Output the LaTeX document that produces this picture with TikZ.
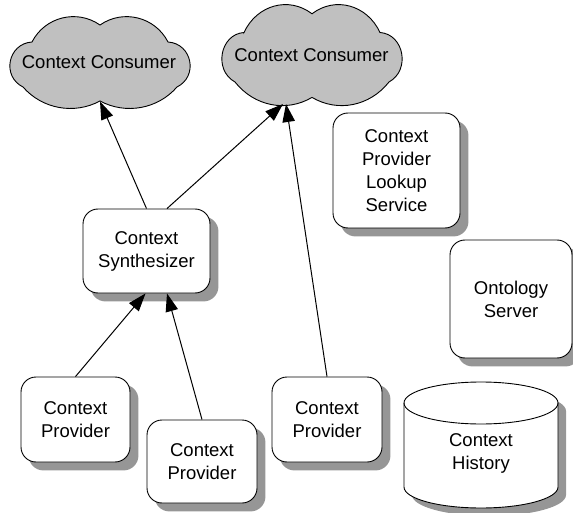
\documentclass[tikz,border=0pt]{standalone}
\usepackage{fontspec}
\setmainfont{Liberation Sans}
\usetikzlibrary{backgrounds,arrows.meta,calc}
\definecolor{cloudgray}{RGB}{192,192,192}
\definecolor{shadegray}{RGB}{150,150,150}
\tikzset{
  x=1pt, y=1pt,
  txt/.style={font=\fontsize{18.5}{23}\selectfont, align=center},
  box/.style={draw=black, line width=0.9pt, fill=white, rounded corners=15pt, txt, inner sep=0pt},
  boxshadow/.style={fill=shadegray, rounded corners=15pt},
  flow/.style={line width=1pt, -{Triangle[length=18pt,width=12.5pt]}},
  pics/consumer/.style={code={
    \filldraw[fill=cloudgray, draw=black, line width=0.9pt]
      (-68,20) to[bend left=49, looseness=1.03] (0,37)
      to[bend left=49, looseness=1.03] (68,20)
      to[bend left=75, looseness=1.35] (77,-25)
      to[bend left=38.6, looseness=0.955] (0,-39)
      to[bend left=38.6, looseness=0.955] (-77,-25)
      to[bend left=75, looseness=1.35] cycle;
  }},
}
\begin{document}
\begin{tikzpicture}
\useasboundingbox (0,0) rectangle (573,-513);
% clouds
\pic at (100,-62) {consumer};
\node[txt] (c1) at (99,-62.5) {Context Consumer};
\pic[yscale=1.1] at (312,-54.5) {consumer};
\node[txt] (c2) at (311.5,-55) {Context Consumer};
% boxes
\node[box, minimum width=127pt, minimum height=115pt] (look) at (396.5,-170.5) {Context\\Provider\\Lookup\\Service};
\node[box, minimum width=122pt, minimum height=118pt] (onto) at (511,-299) {Ontology\\Server};
\node[box, minimum width=127pt, minimum height=84pt] (syn) at (146.5,-251) {Context\\Synthesizer};
\node[box, minimum width=109pt, minimum height=85pt] (p1) at (75.5,-419.5) {Context\\Provider};
\node[box, minimum width=110pt, minimum height=83pt] (p2) at (202,-461.5) {Context\\Provider};
\node[box, minimum width=110pt, minimum height=85pt] (p3) at (327,-419.5) {Context\\Provider};
\begin{scope}[on background layer]
  \foreach \n in {look,onto,syn,p1,p2,p3}
    \path[boxshadow] ($(\n.south west)+(8,-8)$) rectangle ($(\n.north east)+(8,-8)$);
\end{scope}
% cylinder
\path[fill=shadegray] (412,-411) -- (412,-495) arc[start angle=180, end angle=360, x radius=77, y radius=21] -- (566,-411) arc[start angle=0, end angle=180, x radius=77, y radius=21] -- cycle;
\draw[line width=0.9pt, fill=white] (404,-403) -- (404,-487) arc[start angle=180, end angle=360, x radius=77, y radius=21] -- (558,-403) arc[start angle=0, end angle=180, x radius=77, y radius=21] -- cycle;
\draw[line width=0.9pt] (404,-403) arc[start angle=180, end angle=360, x radius=77, y radius=21];
\node[txt] (hist) at (481,-453) {Context\\History};
% connectors
\draw[flow] (syn.north) -- ($(c1)+(1,-39)$);
\draw[flow] ($(syn.north)+(20.5,0)$) -- ($(c2)+(-28.5,-49)$);
\draw[flow] (p3.north) -- ($(c2)+(-25.5,-49)$);
\draw[flow] (p1.north) -- ($(syn.south)+(-1,0)$);
\draw[flow] (p2.north) -- ($(syn.south)+(20.5,0)$);
\end{tikzpicture}
\end{document}
